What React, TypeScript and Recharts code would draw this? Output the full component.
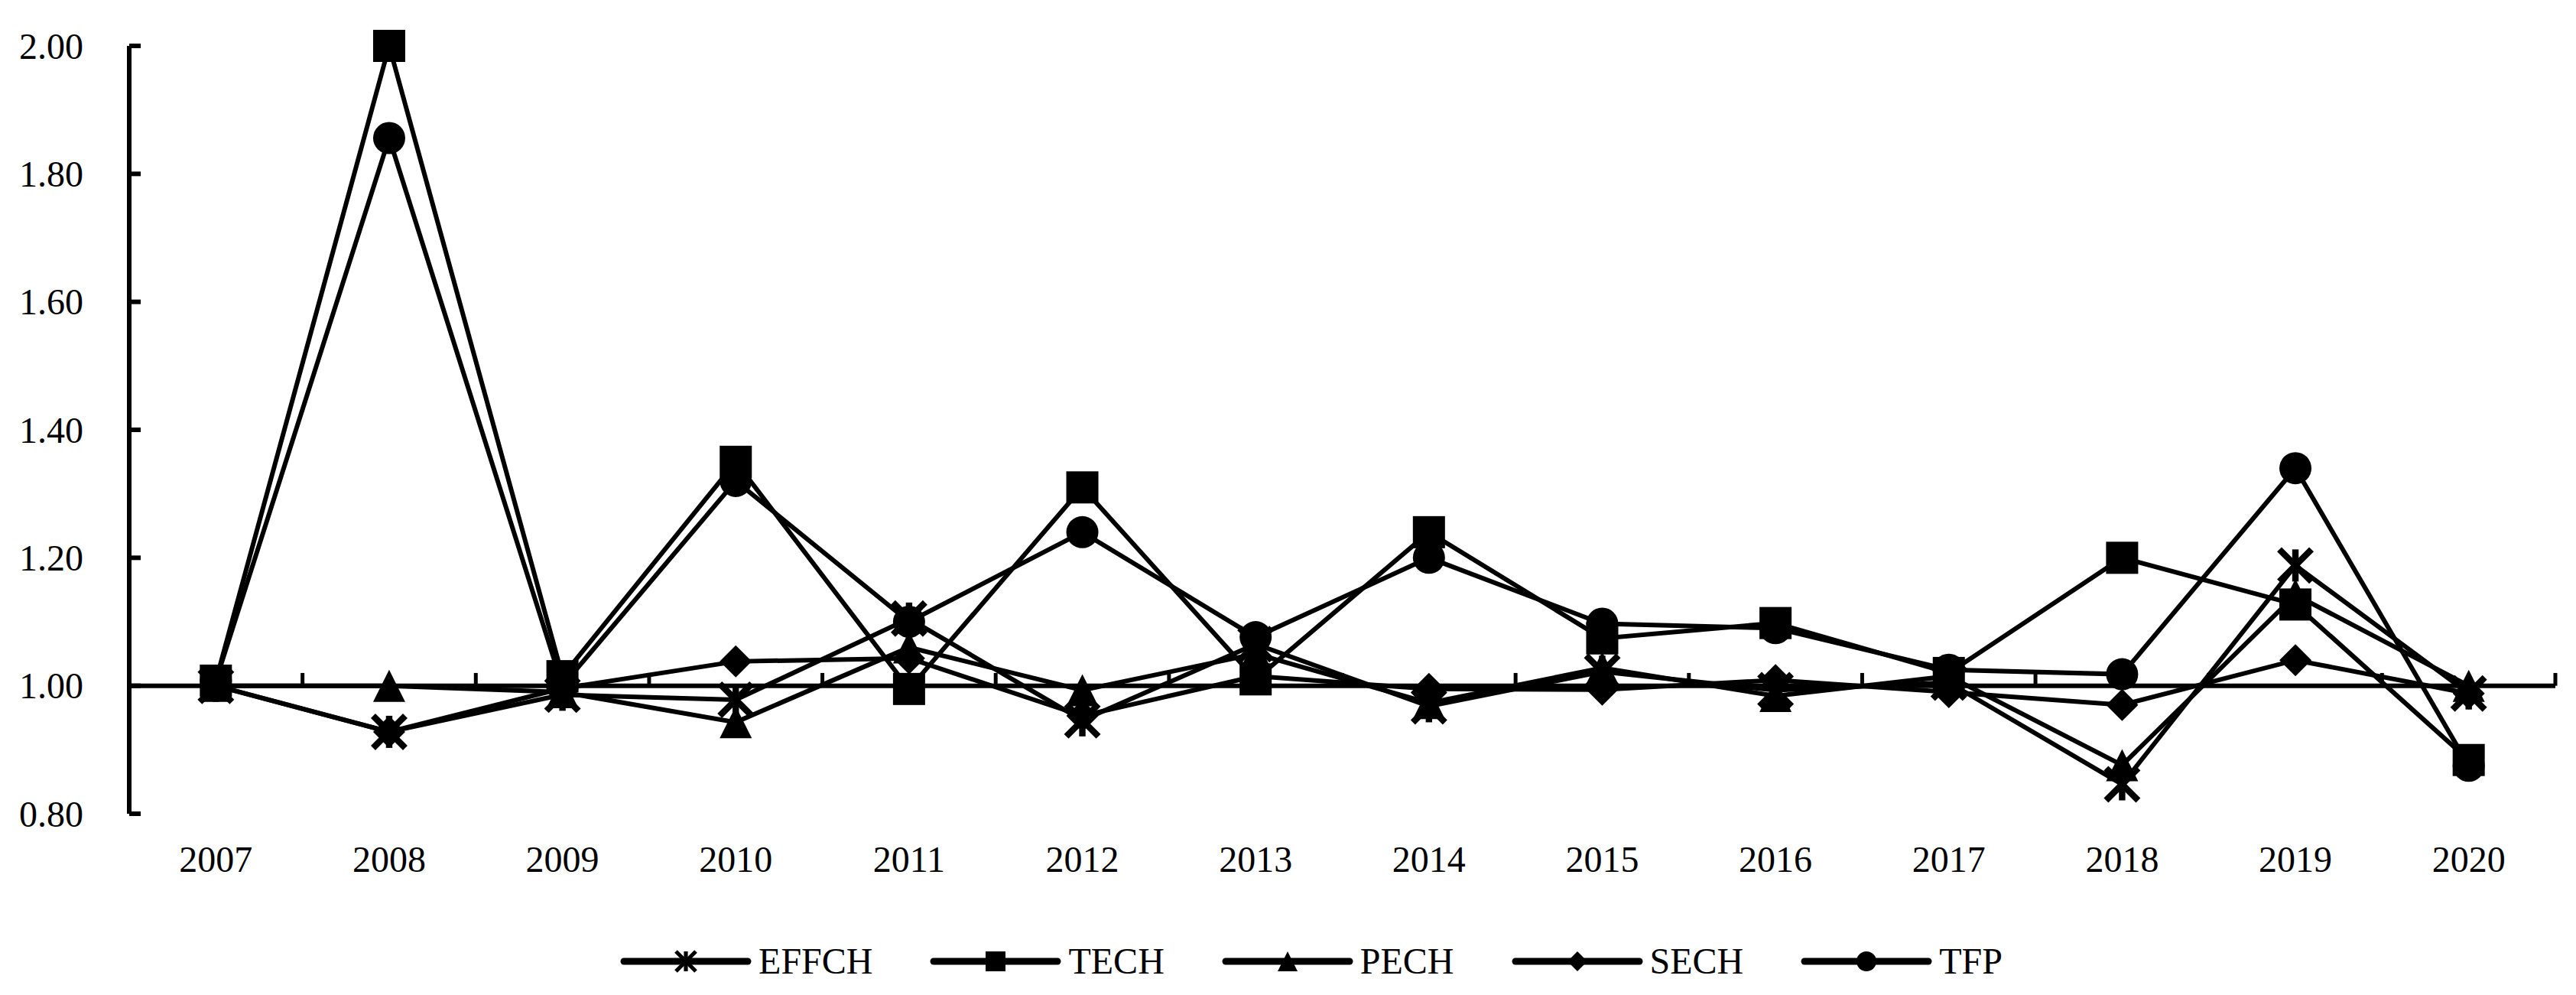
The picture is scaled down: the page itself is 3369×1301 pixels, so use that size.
import React from 'react';
import { LineChart, Line, XAxis, YAxis, ReferenceLine, Legend } from 'recharts';

const years = ['2007', '2008', '2009', '2010', '2011', '2012', '2013', '2014', '2015', '2016', '2017', '2018', '2019', '2020'];
const effch = [1.0, 0.928, 0.986, 0.978, 1.105, 0.946, 1.065, 0.968, 1.022, 0.993, 1.005, 0.846, 1.188, 0.988];
const tech = [1.008, 2.0, 1.015, 1.35, 0.995, 1.31, 1.01, 1.24, 1.074, 1.098, 1.02, 1.2, 1.127, 0.884];
const pech = [1.0, 1.0, 0.99, 0.943, 1.06, 0.993, 1.05, 0.973, 1.028, 0.984, 1.015, 0.876, 1.142, 1.0];
const sech = [1.0, 0.928, 0.996, 1.038, 1.043, 0.953, 1.015, 0.995, 0.994, 1.009, 0.99, 0.97, 1.04, 0.988];
const tfp = [1.008, 1.856, 1.0, 1.32, 1.1, 1.24, 1.076, 1.2, 1.097, 1.09, 1.025, 1.018, 1.34, 0.875];
const yTicks = [0.8, 1.0, 1.2, 1.4, 1.6, 1.8, 2.0];

const seriesList = [
  { key: 'EFFCH', values: effch, marker: 'star' },
  { key: 'TECH', values: tech, marker: 'square' },
  { key: 'PECH', values: pech, marker: 'triangle' },
  { key: 'SECH', values: sech, marker: 'diamond' },
  { key: 'TFP', values: tfp, marker: 'circle' },
];

const data = years.map((y, i) => {
  const row: any = { idx: i, year: y };
  seriesList.forEach((s) => {
    row[s.key] = s.values[i];
  });
  return row;
});

const boundaries = years.map((_, i) => i - 0.5).concat([years.length - 0.5]);

const FONT = "'Liberation Serif', 'Times New Roman', serif";
const FS = 48;
const MARKER = 42;
const Y_TICK_MARGIN = 60;

function Marker({ cx, cy, type, size }: { cx: number; cy: number; type: string; size: number }) {
  const h = size / 2;
  if (cx == null || cy == null || isNaN(cx) || isNaN(cy)) return null;
  switch (type) {
    case 'square':
      return <rect x={cx - h} y={cy - h} width={size} height={size} fill="#000" />;
    case 'circle':
      return <circle cx={cx} cy={cy} r={h} fill="#000" />;
    case 'triangle':
      return <polygon points={`${cx},${cy - h} ${cx + h},${cy + h} ${cx - h},${cy + h}`} fill="#000" />;
    case 'diamond':
      return <polygon points={`${cx},${cy - h} ${cx + h},${cy} ${cx},${cy + h} ${cx - h},${cy}`} fill="#000" />;
    case 'star':
    default: {
      const sw = Math.max(4, size * 0.2);
      return (
        <g stroke="#000" strokeWidth={sw}>
          <line x1={cx - h} y1={cy - h} x2={cx + h} y2={cy + h} />
          <line x1={cx - h} y1={cy + h} x2={cx + h} y2={cy - h} />
          <line x1={cx} y1={cy - h} x2={cx} y2={cy + h} />
        </g>
      );
    }
  }
}

const YTick = (props: any) => {
  const { x, y, payload } = props;
  const ax = x + Y_TICK_MARGIN;
  return (
    <g>
      <line x1={ax} x2={ax + 15} y1={y} y2={y} stroke="#000" strokeWidth={6} />
      <text x={x} y={y} textAnchor="end" dominantBaseline="central" style={{ fontFamily: FONT }} fontSize={FS} fill="#000">
        {Number(payload.value).toFixed(2)}
      </text>
    </g>
  );
};

const LegendContent = () => (
  <div
    style={{
      display: 'flex',
      justifyContent: 'center',
      alignItems: 'center',
      height: 70,
      paddingLeft: 60,
      fontFamily: FONT,
      fontSize: FS,
      color: '#000',
    }}
  >
    {seriesList.map((s, i) => (
      <div key={s.key} style={{ display: 'flex', alignItems: 'center', marginLeft: i ? 74 : 0 }}>
        <svg width={174} height={50} style={{ display: 'block' }}>
          <line x1={6} x2={168} y1={25} y2={25} stroke="#000" strokeWidth={9} strokeLinecap="round" />
          <Marker cx={87} cy={25} type={s.marker} size={26} />
        </svg>
        <span style={{ marginLeft: 8, lineHeight: '70px', fontFamily: FONT }}>{s.key}</span>
      </div>
    ))}
  </div>
);

export default function App() {
  return (
    <div style={{ position: 'absolute', left: 0, top: 0, width: 3369, height: 1301, background: '#fff', fontFamily: FONT }}>
      <LineChart width={3369} height={1301} data={data} margin={{ top: 60, right: 27, bottom: 67, left: 0 }} style={{ fontFamily: FONT }}>
        <XAxis
          dataKey="idx"
          type="number"
          domain={[-0.5, years.length - 0.5]}
          ticks={years.map((_, i) => i)}
          interval={0}
          tickFormatter={(v: number) => years[v]}
          axisLine={false}
          tickLine={false}
          tickSize={0}
          tickMargin={42}
          height={100}
          tick={{ fill: '#000', fontSize: FS, style: { fontFamily: FONT } }}
        />
        <YAxis
          type="number"
          domain={[0.8, 2.0]}
          ticks={yTicks}
          interval={0}
          width={169}
          tickSize={0}
          tickMargin={Y_TICK_MARGIN}
          axisLine={{ stroke: '#000', strokeWidth: 6 }}
          tickLine={false}
          tick={<YTick />}
        />
        <ReferenceLine y={1} stroke="#000" strokeWidth={6} />
        {boundaries.map((b) => (
          <ReferenceLine
            key={`b${b}`}
            segment={[
              { x: b, y: 1 },
              { x: b, y: 1.02 },
            ]}
            stroke="#000"
            strokeWidth={5}
          />
        ))}
        {seriesList.map((s) => (
          <Line
            key={s.key}
            dataKey={s.key}
            type="linear"
            stroke="#000"
            strokeWidth={6}
            isAnimationActive={false}
            activeDot={false}
            dot={(p: any) => (
              <g key={`${s.key}-${p.index}`}>
                <Marker cx={p.cx} cy={p.cy} type={s.marker} size={MARKER} />
              </g>
            )}
          />
        ))}
        <Legend
          verticalAlign="bottom"
          content={<LegendContent />}
          wrapperStyle={{ top: 1222, bottom: 'auto', left: 0, width: 3369, height: 70 }}
        />
      </LineChart>
    </div>
  );
}
